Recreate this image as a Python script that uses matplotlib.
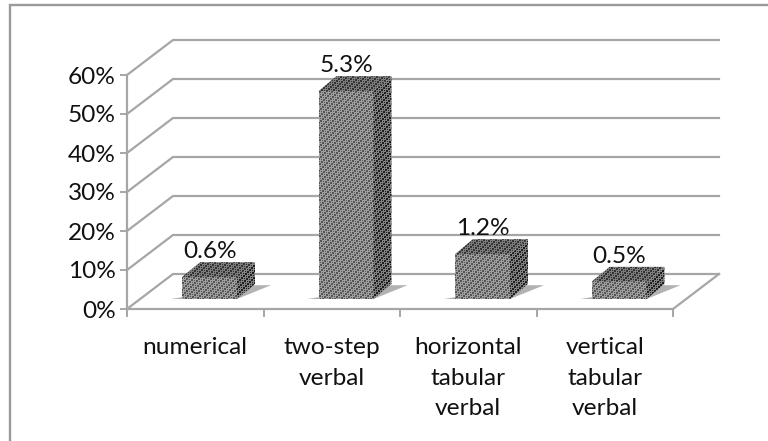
import numpy as np
import matplotlib
matplotlib.use("Agg")
import matplotlib.pyplot as plt
from matplotlib.patches import Polygon
from matplotlib.lines import Line2D

W, H = 768, 441
categories = ["numerical", "two-step\nverbal", "horizontal\ntabular\nverbal", "vertical\ntabular\nverbal"]
values = [5.6, 53.3, 11.5, 4.4]
bar_labels = ["0.6%", "5.3%", "1.2%", "0.5%"]
y_ticks = [0, 10, 20, 30, 40, 50, 60]

GRID = "#a6a6a6"
TXT = "#111111"
FS = 17.6
plt.rcParams["font.family"] = ["Lato", "DejaVu Sans"]

fig = plt.figure(figsize=(W / 100, H / 100), dpi=100, facecolor="white")
L, R, T, B = 127, 673, 75, 309
ax = fig.add_axes([L / W, 1 - B / H, (R - L) / W, (B - T) / H])
ax.set_xlim(0, 4)
ax.set_ylim(0, 60)
ax.patch.set_alpha(0)

px = 4 / (R - L)
py = 60 / (B - T)
DX, DY = 46 * px, 35 * py
dx, dy = 18 * px, 15 * py

# outer frame: only the top and left edges show in the crop
fig.add_artist(Line2D([9.5 / W, 9.5 / W, 1], [0, 1 - 4.5 / H, 1 - 4.5 / H],
                      transform=fig.transFigure, color="#9a9a9a", lw=1.7, solid_joinstyle="miter"))

for v in y_ticks:
    ax.plot([0, DX, 4 + DX], [v, v + DY, v + DY], color=GRID, lw=1.6, clip_on=False,
            solid_joinstyle="miter", zorder=1)
ax.plot([4, 4 + DX], [0, DY], color=GRID, lw=1.6, clip_on=False, zorder=1)

for s in ["top", "right"]:
    ax.spines[s].set_visible(False)
for s in ["left", "bottom"]:
    ax.spines[s].set_color(GRID)
    ax.spines[s].set_linewidth(1.6)

ax.set_yticks(y_ticks)
ax.set_yticklabels([f"{v}%" for v in y_ticks], fontsize=FS, color=TXT, va="center_baseline")
ax.set_xticks(range(5))
ax.set_xticklabels([])
ax.set_xticks([0.5, 1.5, 2.5, 3.5], minor=True)
ax.set_xticklabels(categories, minor=True, fontsize=FS, color=TXT, linespacing=1.58)
ax.tick_params(axis="x", which="major", length=6, width=1.4, color=GRID)
ax.tick_params(axis="y", which="major", length=5, width=1.4, color=GRID, pad=3)
ax.tick_params(axis="x", which="minor", length=0, pad=20)

yy, xx = np.mgrid[0:H, 0:W]
weave = ((xx + yy) % 3 == 0) ^ ((xx - yy) % 4 == 0)


def textured(poly, dark, light):
    patch = Polygon(poly, closed=True, transform=ax.transData, fc="none", ec="none")
    ax.add_patch(patch)
    rgb = np.where(weave[..., None], np.array(dark), np.array(light)) / 255
    im = fig.figimage(rgb, 0, 0, origin="upper", zorder=4)
    im.set_clip_path(patch)


left_offset = (182 - L) * px
width = 55 * px
base = (309 - 299) * py
for i, v in enumerate(values):
    x0 = i + left_offset
    x1 = x0 + width
    top = base + v
    ax.add_patch(Polygon([(x0 - 11 * px, base), (x1, base), (x1 + dx + 16 * px, base + dy - 1.2 * py),
                          (x1 + dx, base + dy - 1.2 * py)], closed=True, fc="#9f9f9f", ec="none",
                         alpha=0.8, zorder=2, clip_on=False))
    textured([(x0, base), (x1, base), (x1, top), (x0, top)], (85, 85, 85), (160, 160, 160))
    textured([(x1, base), (x1 + dx, base + dy), (x1 + dx, top + dy), (x1, top)], (30, 30, 30), (130, 130, 130))
    textured([(x0, top), (x1, top), (x1 + dx, top + dy), (x0 + dx, top + dy)], (50, 50, 50), (125, 125, 125))
    ax.text(x0 + 28 * px, top + dy + 0.2 * py, bar_labels[i], ha="center", va="bottom",
            fontsize=FS, color=TXT, zorder=6, clip_on=False)

fig.savefig("out.png", dpi=100)
